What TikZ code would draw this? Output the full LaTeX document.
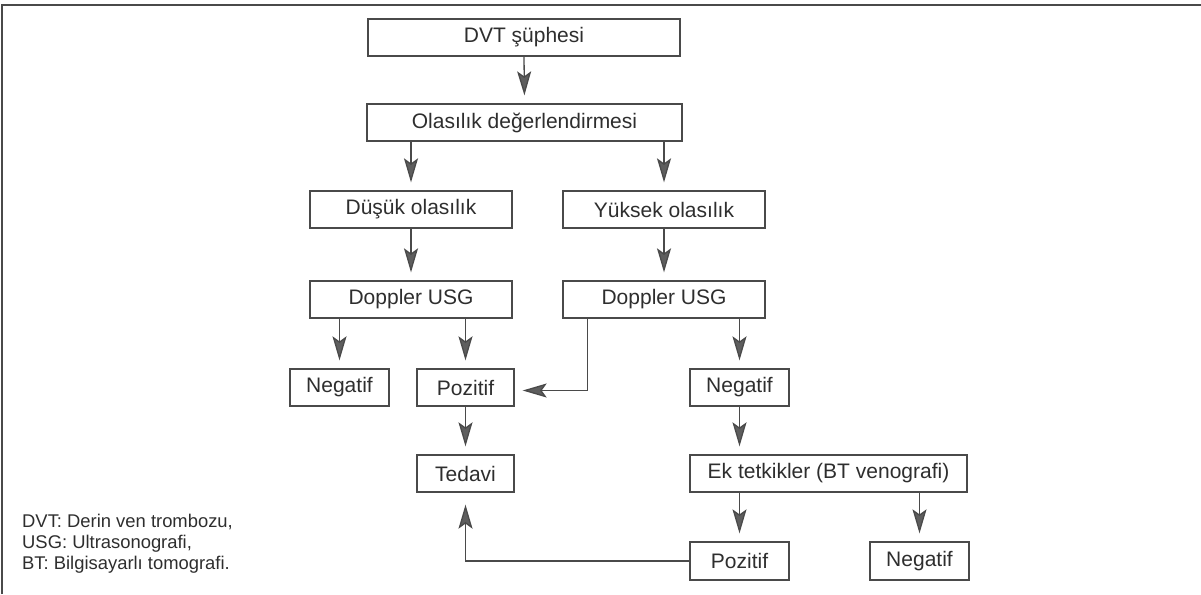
\documentclass[tikz,border=0pt]{standalone}
\usepackage{fontspec}
\setmainfont{Liberation Sans}
\usetikzlibrary{arrows.meta}
\definecolor{ln}{HTML}{4A4A4A}
\definecolor{tx}{HTML}{2E2E2E}
\definecolor{ah}{HTML}{5E5E5E}
\begin{document}
\begin{tikzpicture}[x=1pt,y=-1pt,
  box/.style={draw=ln, line width=1.3pt, rectangle, inner sep=0pt, minimum height=37pt, text=tx,
    font=\fontsize{21}{24}\selectfont},
  arr/.style={draw=ln, line width=1.3pt, -{Stealth[length=24pt,width=14pt,inset=5pt,fill=ah]}, shorten >=8pt},
  frame/.style={draw=ln, line width=1.6pt},
  legend/.style={anchor=north west, align=left, inner sep=0pt, text=tx, font=\fontsize{18.4}{21}\selectfont}]
\useasboundingbox (0,0) rectangle (1201,594);
\draw[frame] (2,594) -- (2,5) -- (1201,5);

\node[box, minimum width=312pt] (top) at (524,37.5) {DVT şüphesi};
\node[box, minimum width=315pt] (ola) at (524.5,122.5) {Olasılık değerlendirmesi};
\node[box, minimum width=202pt] (dus) at (411,209.5) {Düşük olasılık};
\node[box, minimum width=202pt] (yuk) at (664,209.5) {Yüksek olasılık};
\node[box, minimum width=202pt] (dopL) at (411,299.5) {Doppler USG};
\node[box, minimum width=202pt] (dopR) at (664,299.5) {Doppler USG};
\node[box, minimum width=99pt] (negL) at (339.5,387.5) {Negatif};
\node[box, minimum width=97pt] (pozL) at (465.5,387.5) {Pozitif};
\node[box, minimum width=99pt] (negR) at (739.5,387.5) {Negatif};
\node[box, minimum width=97pt] (ted) at (465.5,473.5) {Tedavi};
\node[box, minimum width=277pt] (ek) at (828.5,473.5) {Ek tetkikler (BT venografi)};
\node[box, minimum width=99pt, minimum height=38pt] (pozB) at (739.5,561) {Pozitif};
\node[box, minimum width=99pt, minimum height=38pt] (negB) at (919.5,561) {Negatif};

\node[legend] (leg) at (22,514) {DVT: Derin ven trombozu,\\USG: Ultrasonografi,\\BT: Bilgisayarlı tomografi.};

\draw[arr] (top.south) -- (ola.north);
\draw[arr] (dus |- ola.south) -- (dus.north);
\draw[arr] (yuk |- ola.south) -- (yuk.north);
\draw[arr] (dus.south) -- (dopL.north);
\draw[arr] (yuk.south) -- (dopR.north);
\draw[arr] (negL |- dopL.south) -- (negL.north);
\draw[arr] (pozL |- dopL.south) -- (pozL.north);
\draw[arr] ([xshift=25pt]dopR.south west) |- ([yshift=-3pt]pozL.east);
\draw[arr] (negR |- dopR.south) -- (negR.north);
\draw[arr] (pozL.south) -- (ted.north);
\draw[arr] (negR.south) -- (negR |- ek.north);
\draw[arr] (pozB |- ek.south) -- (pozB.north);
\draw[arr] (negB |- ek.south) -- (negB.north);
\draw[arr, shorten >=12pt] (pozB.west) -| (ted.south);
\end{tikzpicture}
\end{document}
